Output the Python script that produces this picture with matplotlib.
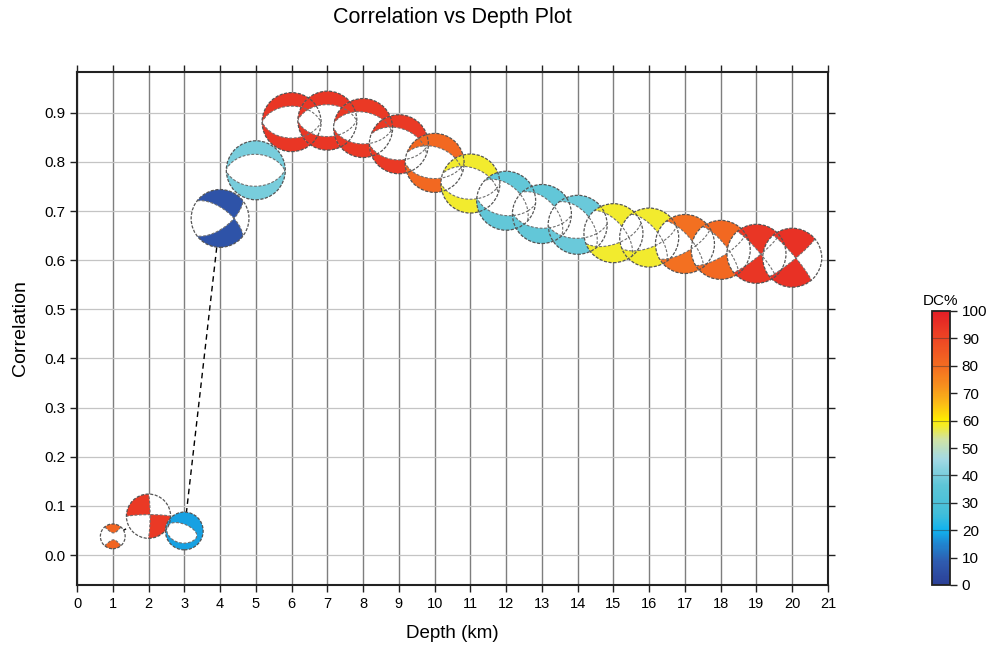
import numpy as np
import matplotlib
matplotlib.use("Agg")
import matplotlib.pyplot as plt
from matplotlib.transforms import Affine2D, ScaledTranslation
from matplotlib.patches import Circle
from matplotlib.colors import LinearSegmentedColormap, Normalize
import matplotlib.colorbar as mcolorbar

plt.rcParams['font.family'] = ['Liberation Sans', 'DejaVu Sans']

# ---------------- data ----------------
depth = [1, 2, 3, 4, 5, 6, 7, 8, 9, 10, 11, 12, 13, 14, 15, 16, 17, 18, 19, 20]
correlation = [0.038, 0.079, 0.049, 0.685, 0.783, 0.881, 0.884, 0.869, 0.836, 0.798,
               0.756, 0.721, 0.694, 0.672, 0.655, 0.646, 0.633, 0.621, 0.613, 0.605]
dc_percent = [82, 93, 18, 6, 40, 94, 94, 93, 93, 81,
              58, 37, 37, 38, 58, 58, 79, 81, 94, 95]
# relative symbol size
rel_size = [0.42, 0.75, 0.64, 0.98, 1.0, 1.0, 1.0, 1.0, 1.0, 1.0,
            1.0, 1.0, 1.0, 1.0, 1.0, 1.0, 1.0, 1.0, 1.0, 1.0]
# focal mechanism description: P axis (trend, plunge), T axis trend, isotropic part
p_trend = [270, 225, 235, 270, 270, 270, 270, 275, 280, 280,
           280, 295, 295, 295, 285, 285, 280, 280, 275, 275]
p_plunge = [5, 8, 72, 40, 88, 90, 89, 85, 80, 80,
            80, 70, 65, 60, 45, 40, 30, 25, 12, 10]
t_trend = [0, 315, 15, 0, 0, 0, 0, 5, 10, 10,
           10, 25, 25, 25, 15, 15, 10, 10, 5, 5]
iso_part = [-0.15, 0.0, 0.1, 0.0, 0.0, 0.0, 0.0, 0.0, 0.0, 0.0,
            0.0, 0.0, 0.0, 0.0, 0.0, 0.0, 0.0, 0.0, 0.0, 0.0]

x_ticks = list(range(0, 22))
y_ticks = [0.0, 0.1, 0.2, 0.3, 0.4, 0.5, 0.6, 0.7, 0.8, 0.9]
cbar_ticks = [0, 10, 20, 30, 40, 50, 60, 70, 80, 90, 100]

# ---------------- colormap ----------------
cm_stops = [(0.00, '#2B3F96'), (0.08, '#2F5AAE'), (0.15, '#1F86D0'),
            (0.20, '#12B2EE'), (0.26, '#42BEDA'), (0.36, '#5CC5D7'),
            (0.46, '#A3D9E4'), (0.53, '#CFE3A6'), (0.60, '#FFEE00'),
            (0.66, '#FBBE16'), (0.72, '#F7941D'), (0.80, '#F36C21'),
            (0.90, '#EE4624'), (1.00, '#E31E26')]
cmap = LinearSegmentedColormap.from_list('dc', cm_stops)
norm = Normalize(0, 100)

# ---------------- figure ----------------
W, H, DPI = 992, 648, 100
fig = plt.figure(figsize=(W / DPI, H / DPI), dpi=DPI)
ax = fig.add_axes([77 / W, 1 - 585 / H, (828 - 77) / W, (585 - 72) / H])
ax.set_xlim(0, 21)
ax.set_ylim(-0.061, 0.983)

for xv in x_ticks:
    ax.axvline(xv, color='#7e7e7e', lw=1.0, zorder=0.5)
for yv in y_ticks:
    ax.axhline(yv, color='#c4c4c4', lw=0.9, zorder=0.5)

ax.set_xticks(x_ticks)
ax.set_yticks(y_ticks)
ax.set_yticklabels([f"{v:.1f}" for v in y_ticks])
ax.tick_params(axis='both', direction='out', length=5, width=1.0, labelsize=11,
               top=True, right=True, labeltop=False, labelright=False, color='#222222')
ax.tick_params(axis='x', labelsize=10.5)
for s in ax.spines.values():
    s.set_linewidth(1.5)
    s.set_color('#222222')

ax.set_xlabel('Depth (km)', fontsize=13.5, labelpad=10)
ax.set_ylabel('Correlation', fontsize=14, labelpad=11)
fig.text((77 + 828) / 2 / W, 1 - 17 / H, 'Correlation vs Depth Plot', fontsize=15.5,
         ha='center', va='center')

# connecting dashed line between centers
ax.plot(depth, correlation, color='black', lw=1.0, ls=(0, (4, 3)), zorder=2)

# ---------------- beachballs ----------------
N = 181
g = np.linspace(-1.03, 1.03, N)
GX, GY = np.meshgrid(g, g)
R = np.clip(np.hypot(GX, GY), 0, 1)
inc = 2 * np.arcsin(R / np.sqrt(2))
azm = np.arctan2(GX, GY)
vn = np.sin(inc) * np.cos(azm)
ve = np.sin(inc) * np.sin(azm)
vd = np.cos(inc)


def axis_vec(trend, plunge):
    t, p = np.radians(trend), np.radians(plunge)
    return np.array([np.cos(p) * np.cos(t), np.cos(p) * np.sin(t), np.sin(p)])


def t_axis(P, trend):
    t = np.radians(trend)
    h = P[0] * np.cos(t) + P[1] * np.sin(t)
    if abs(P[2]) < 1e-9:
        a = 0.0
    else:
        a = np.arctan(-h / P[2])
    return np.array([np.cos(a) * np.cos(t), np.cos(a) * np.sin(t), np.sin(a)])


base_r_px = 29.5
for i, (x, y) in enumerate(zip(depth, correlation)):
    P = axis_vec(p_trend[i], p_plunge[i])
    T = t_axis(P, t_trend[i])
    A = (vn * T[0] + ve * T[1] + vd * T[2]) ** 2 - (vn * P[0] + ve * P[1] + vd * P[2]) ** 2 + iso_part[i]
    r_in = base_r_px * rel_size[i] / DPI
    trans = Affine2D().scale(r_in) + fig.dpi_scale_trans + ScaledTranslation(x, y, ax.transData)
    z = 3 + i * 0.01
    bg = Circle((0, 0), 1, transform=trans, facecolor='white', edgecolor='none', zorder=z)
    ax.add_patch(bg)
    col = cmap(norm(dc_percent[i]))
    if A.max() > 0:
        cs = ax.contourf(GX, GY, A, levels=[0, A.max() + 1], colors=[col], transform=trans,
                         zorder=z + 0.001, antialiased=True)
        cs.set_clip_path(bg)
    cl = ax.contour(GX, GY, A, levels=[0], colors='#6f6f6f', linewidths=0.8,
                    linestyles=[(0, (2.5, 1.5))], transform=trans, zorder=5)
    cl.set_clip_path(bg)
    ax.add_patch(Circle((0, 0), 1, transform=trans, fill=False, edgecolor='#555555',
                        lw=0.9, ls=(0, (2.5, 1.2)), zorder=5.1))

ax.set_xlim(0, 21)
ax.set_ylim(-0.061, 0.983)

# ---------------- colorbar ----------------
cax = fig.add_axes([932 / W, 1 - 585 / H, (950 - 932) / W, (585 - 311) / H])
cb = mcolorbar.ColorbarBase(cax, cmap=cmap, norm=norm, orientation='vertical', ticks=cbar_ticks)
cb.outline.set_linewidth(1.3)
cb.outline.set_edgecolor('#222222')
cax.tick_params(direction='out', length=5, width=1.0, labelsize=11, color='#222222')
for v in [20, 30, 40, 60, 80, 90]:
    cax.axhline(v, color='#333333', lw=0.8, alpha=0.45)
cax.set_title('DC%', fontsize=11, pad=4)

fig.savefig('out.png', dpi=DPI)
